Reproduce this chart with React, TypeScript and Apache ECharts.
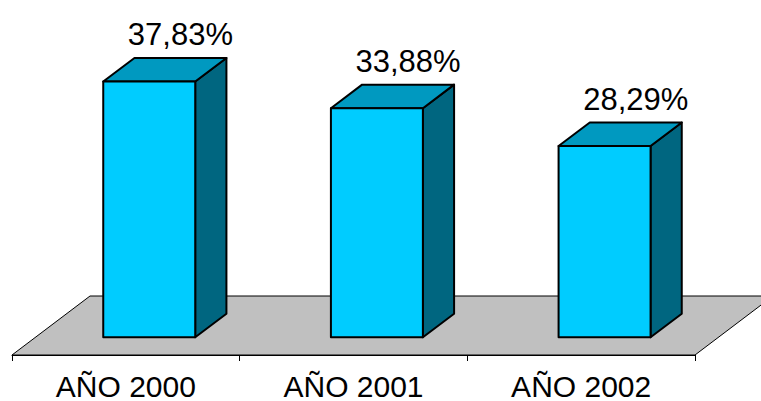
import React, { useEffect, useRef } from "react";
import * as echarts from "echarts";

const categories = ["AÑO 2000", "AÑO 2001", "AÑO 2002"];
const values = [37.83, 33.88, 28.29];
const valueLabels = ["37,83%", "33,88%", "28,29%"];

const FONT = "'Liberation Sans', Arial, sans-serif";
const FLOOR_DX = 78;
const FLOOR_DY = -59;
const BAR_FRONT = 0.3; // depth fraction of bar front
const BAR_DEPTH = 0.4; // depth fraction of bar thickness
const BAR_WIDTH = 0.404; // fraction of band

export default function App() {
  const ref = useRef<HTMLDivElement>(null);
  useEffect(() => {
    if (!ref.current) return;
    const chart = echarts.init(ref.current, null, { renderer: "svg" });
    const option: any = {
      animation: false,
      backgroundColor: "#ffffff",
      grid: { left: 12, right: 66, top: 17, bottom: 43 },
      xAxis: {
        type: "category",
        data: categories,
        boundaryGap: true,
        axisLine: { show: true, lineStyle: { color: "#000", width: 1 } },
        axisTick: { show: true, length: 6, lineStyle: { color: "#000", width: 1 } },
        axisLabel: { color: "#000", fontSize: 30, fontFamily: FONT, margin: 16 },
        z: 5,
      },
      yAxis: { type: "value", min: 0, max: 50, show: false, splitLine: { show: false } },
      series: [
        {
          type: "custom",
          z: 1,
          silent: true,
          data: [[0, 0]],
          renderItem: (params: any, api: any) => {
            const cs = params.coordSys;
            const x0 = cs.x;
            const x1 = cs.x + cs.width;
            const yb = cs.y + cs.height;
            return {
              type: "polygon",
              shape: {
                points: [
                  [x0, yb],
                  [x1, yb],
                  [x1 + FLOOR_DX, yb + FLOOR_DY],
                  [x0 + FLOOR_DX, yb + FLOOR_DY],
                ],
              },
              style: { fill: "#c0c0c0", stroke: "#000", lineWidth: 1 },
            };
          },
        },
        {
          type: "custom",
          z: 3,
          data: values.map((v, i) => [i, v]),
          renderItem: (params: any, api: any) => {
            const i = api.value(0);
            const v = api.value(1);
            const c0 = api.coord([i, 0]);
            const c1 = api.coord([i, v]);
            const band = api.size([1, 0])[0];
            const w = band * BAR_WIDTH;
            const ox = FLOOR_DX * BAR_FRONT;
            const oy = FLOOR_DY * BAR_FRONT;
            const dx = FLOOR_DX * BAR_DEPTH;
            const dy = FLOOR_DY * BAR_DEPTH;
            const l = c0[0] - w / 2 + ox;
            const r = c0[0] + w / 2 + ox;
            const b = c0[1] + oy;
            const t = c1[1] + oy;
            const stroke = { stroke: "#000", lineWidth: 2, lineJoin: "round" };
            return {
              type: "group",
              children: [
                {
                  type: "polygon",
                  shape: { points: [[r, t], [r + dx, t + dy], [r + dx, b + dy], [r, b]] },
                  style: { fill: "#006680", ...stroke },
                },
                {
                  type: "polygon",
                  shape: { points: [[l, t], [l + dx, t + dy], [r + dx, t + dy], [r, t]] },
                  style: { fill: "#0099c0", ...stroke },
                },
                {
                  type: "rect",
                  shape: { x: l, y: t, width: r - l, height: b - t },
                  style: { fill: "#00ccff", ...stroke },
                },
                {
                  type: "text",
                  style: {
                    text: valueLabels[i],
                    x: (l + r) / 2 + dx,
                    y: t + dy - 23,
                    align: "center",
                    verticalAlign: "middle",
                    fill: "#000",
                    fontSize: 31,
                    fontFamily: FONT,
                  },
                },
              ],
            };
          },
        },
      ],
    };
    chart.setOption(option);
    return () => chart.dispose();
  }, []);
  return (
    <div
      ref={ref}
      style={{ position: "absolute", left: 0, top: 0, width: 761, height: 401 }}
    />
  );
}
